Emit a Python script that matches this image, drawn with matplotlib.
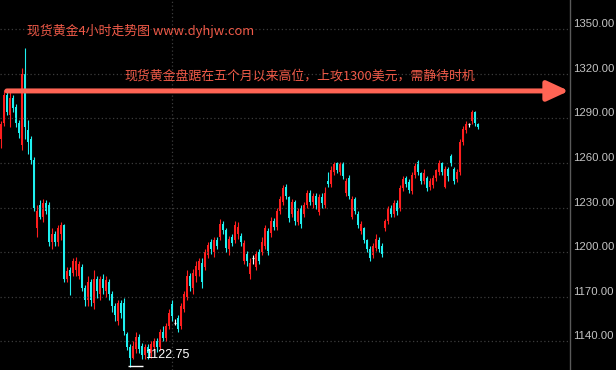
import matplotlib
matplotlib.use('Agg')
import matplotlib.pyplot as plt
import numpy as np

plt.rcParams['font.family'] = ['Noto Sans CJK SC', 'DejaVu Sans']

# 现货黄金 4小时K线 (读图估计值)
opens = [1276, 1287, 1306, 1292, 1304, 1298, 1287, 1272, 1320, 1282,
         1276, 1262, 1216, 1232, 1224, 1233, 1232, 1207, 1212, 1207,
         1212, 1218, 1182, 1188, 1186, 1188, 1184, 1190, 1176, 1168,
         1180, 1166, 1182, 1172, 1182, 1174, 1180, 1172, 1164, 1154,
         1166, 1166, 1145, 1136, 1129, 1135, 1143, 1137, 1131, 1136,
         1132, 1136, 1140, 1136, 1146, 1142, 1150, 1165, 1152, 1156,
         1150, 1162, 1170, 1184, 1176, 1184, 1188, 1193, 1190, 1198,
         1207, 1200, 1208, 1210, 1219, 1215, 1202, 1210, 1208, 1212,
         1211, 1194, 1199, 1185, 1196, 1190, 1200, 1200, 1204, 1214,
         1213, 1221, 1217, 1228, 1234, 1244, 1237, 1226, 1234, 1220,
         1230, 1226, 1232, 1240, 1234, 1238, 1227, 1237, 1232, 1248,
         1246, 1254, 1260, 1254, 1259, 1240, 1250, 1224, 1236, 1226,
         1214, 1216, 1208, 1202, 1198, 1203, 1208, 1204, 1216, 1221,
         1230, 1226, 1233, 1230, 1243, 1250, 1247, 1241, 1252, 1261,
         1253, 1248, 1250, 1244, 1245, 1250, 1254, 1260, 1244, 1256,
         1265, 1256, 1249, 1254, 1274, 1282, 1286, 1288, 1294, 1286]
highs = [1288, 1309, 1309, 1309, 1306, 1300, 1289, 1324, 1337.4, 1289,
         1278, 1264, 1232, 1235, 1236, 1235, 1234, 1216, 1214, 1218,
         1220, 1219, 1190, 1190, 1196, 1197, 1194, 1192, 1178, 1184,
         1182, 1188, 1184, 1184, 1185, 1184, 1182, 1174, 1166, 1168,
         1168, 1169, 1146, 1138, 1140, 1146, 1145, 1139, 1138, 1138,
         1140, 1142, 1142, 1148, 1150, 1152, 1162, 1168, 1155, 1158,
         1166, 1174, 1188, 1186, 1189, 1194, 1196, 1196, 1202, 1207,
         1209, 1210, 1210, 1222, 1221, 1216, 1211, 1212, 1221, 1220,
         1213, 1208, 1201, 1196, 1198, 1201, 1202, 1210, 1218, 1216,
         1224, 1223, 1230, 1238, 1245, 1246, 1238, 1236, 1235, 1230,
         1232, 1234, 1242, 1242, 1240, 1240, 1239, 1240, 1244, 1254,
         1258, 1261, 1261, 1261, 1261, 1250, 1252, 1238, 1237, 1228,
         1221, 1217, 1209, 1204, 1206, 1212, 1210, 1206, 1222, 1231,
         1232, 1235, 1235, 1245, 1251, 1251, 1249, 1254, 1260, 1262,
         1254, 1256, 1251, 1250, 1252, 1256, 1262, 1261, 1258, 1257,
         1266, 1257, 1256, 1276, 1285, 1288, 1287, 1296, 1295, 1287]
lows = [1270, 1285, 1292, 1284, 1294, 1284, 1277, 1269, 1276, 1266,
        1259, 1228, 1210, 1222, 1220, 1226, 1204, 1202, 1204, 1204,
        1208, 1180, 1180, 1171, 1184, 1184, 1182, 1174, 1164, 1164,
        1164, 1162, 1169, 1168, 1172, 1170, 1168, 1160, 1154, 1151,
        1156, 1144, 1134, 1122.75, 1128, 1132, 1132, 1128, 1128, 1128,
        1129, 1132, 1133, 1134, 1140, 1140, 1148, 1154, 1151, 1146,
        1148, 1160, 1168, 1174, 1172, 1180, 1184, 1176, 1188, 1196,
        1199, 1197, 1202, 1208, 1212, 1200, 1198, 1204, 1206, 1209,
        1204, 1192, 1191, 1182, 1192, 1188, 1192, 1198, 1202, 1198,
        1210, 1215, 1215, 1226, 1232, 1236, 1220, 1224, 1218, 1218,
        1216, 1224, 1230, 1232, 1230, 1229, 1225, 1230, 1230, 1244,
        1244, 1252, 1253, 1252, 1249, 1238, 1236, 1222, 1226, 1216,
        1212, 1206, 1200, 1194, 1196, 1201, 1200, 1197, 1214, 1219,
        1224, 1224, 1225, 1228, 1241, 1244, 1240, 1239, 1250, 1252,
        1246, 1246, 1241, 1242, 1243, 1248, 1252, 1252, 1243, 1248,
        1258, 1246, 1247, 1252, 1272, 1280, 1284, 1286, 1285, 1283]
closes = [1286, 1306, 1294, 1304, 1297, 1287, 1280, 1320, 1284, 1274,
          1262, 1230, 1228, 1224, 1233, 1228, 1207, 1212, 1207, 1216,
          1218, 1182, 1187, 1184, 1194, 1194, 1192, 1176, 1168, 1180,
          1168, 1182, 1174, 1182, 1176, 1181, 1172, 1164, 1158, 1166,
          1159, 1147, 1136, 1129, 1137, 1143, 1135, 1131, 1136, 1132,
          1138, 1140, 1136, 1146, 1142, 1150, 1159, 1157, 1152, 1148,
          1164, 1172, 1184, 1177, 1186, 1191, 1194, 1180, 1200, 1205,
          1202, 1208, 1204, 1219, 1215, 1203, 1209, 1206, 1218, 1217,
          1207, 1206, 1194, 1193, 1196, 1199, 1194, 1207, 1216, 1201,
          1221, 1217, 1228, 1236, 1243, 1238, 1223, 1234, 1221, 1228,
          1219, 1232, 1240, 1234, 1238, 1232, 1237, 1233, 1240, 1246,
          1255, 1259, 1255, 1259, 1251, 1248, 1238, 1236, 1228, 1218,
          1219, 1208, 1202, 1196, 1204, 1209, 1202, 1199, 1221, 1229,
          1226, 1233, 1228, 1243, 1249, 1246, 1242, 1252, 1258, 1254,
          1248, 1253, 1243, 1248, 1250, 1255, 1260, 1254, 1256, 1251,
          1260, 1248, 1254, 1274, 1283, 1286, 1286, 1294, 1287, 1284]

price_ticks = [1140, 1170, 1200, 1230, 1260, 1290, 1320, 1350]
sep_idx = 57          # 分隔线 (新年)
arrow_level = 1308.5
title1 = "现货黄金4小时走势图 www.dyhjw.com"
title2 = "现货黄金盘踞在五个月以来高位，上攻1300美元，需静待时机"

up_c = '#ff1e1e'
down_c = '#1ef0f0'
text_c = '#f05a48'

o = np.array(opens); h = np.array(highs); l = np.array(lows); c = np.array(closes)
x = np.arange(len(o))
cols = np.where(c > o, up_c, np.where(c < o, down_c, 'white'))

fig = plt.figure(figsize=(6.16, 3.7), dpi=100, facecolor='black')
ax = fig.add_axes([0, 0, 570/616, 1])
ax.set_facecolor('black')

# 网格
ax.set_yticks(price_ticks)
ax.set_yticklabels(['%.2f' % p for p in price_ticks])
ax.grid(axis='y', color='#3c3c3c', linestyle=(0, (1, 2)), linewidth=0.9)
ax.axvline(sep_idx, color='#3c3c3c', linestyle=(0, (1, 2)), linewidth=0.9)

# K线
ax.vlines(x, l, h, colors=cols, linewidth=0.8)
ax.bar(x, np.abs(c - o), bottom=np.minimum(o, c), width=0.62, color=cols, linewidth=0)
doji = c == o
ax.hlines(c[doji], x[doji] - 0.4, x[doji] + 0.4, colors='white', linewidth=0.9)

ax.set_xlim(-1/3, 189.67)
ax.set_ylim(1120.7, 1369.7)

ax.yaxis.tick_right()
ax.tick_params(axis='y', length=0, pad=2, labelcolor='#c4c4c4', labelsize=8.2)
for lab in ax.get_yticklabels():
    lab.set_va('bottom')
    lab.set_family('Liberation Sans')
ax.set_xticks([])
for s in ['top', 'bottom', 'left']:
    ax.spines[s].set_visible(False)
ax.spines['right'].set_color('#5a5a5a')
ax.spines['right'].set_linewidth(1)

# 最低点标注
li = int(np.argmin(l))
ax.hlines(l[li] + 0.5, li - 0.7, li + 4.3, colors='white', linewidth=1)
ax.text(li + 5, l[li] + 8, '%.2f' % l[li], color='white', fontsize=9,
        family='Liberation Sans', va='center', ha='left')

# 箭头和文字
ax.annotate('', xy=(0.998, arrow_level), xytext=(0.012, arrow_level),
            xycoords=('axes fraction', 'data'), textcoords=('axes fraction', 'data'),
            arrowprops=dict(arrowstyle='-|>,head_length=1.3,head_width=0.6',
                            lw=3.6, color='#ff6454', shrinkA=0, shrinkB=0,
                            mutation_scale=10))
ax.text(0.0474, 0.916, title1, transform=ax.transAxes, color=text_c,
        fontsize=9.3, va='center', ha='left')
ax.text(0.219, 0.795, title2, transform=ax.transAxes, color=text_c,
        fontsize=9.3, va='center', ha='left')

fig.savefig('out.png', dpi=100, facecolor='black')
